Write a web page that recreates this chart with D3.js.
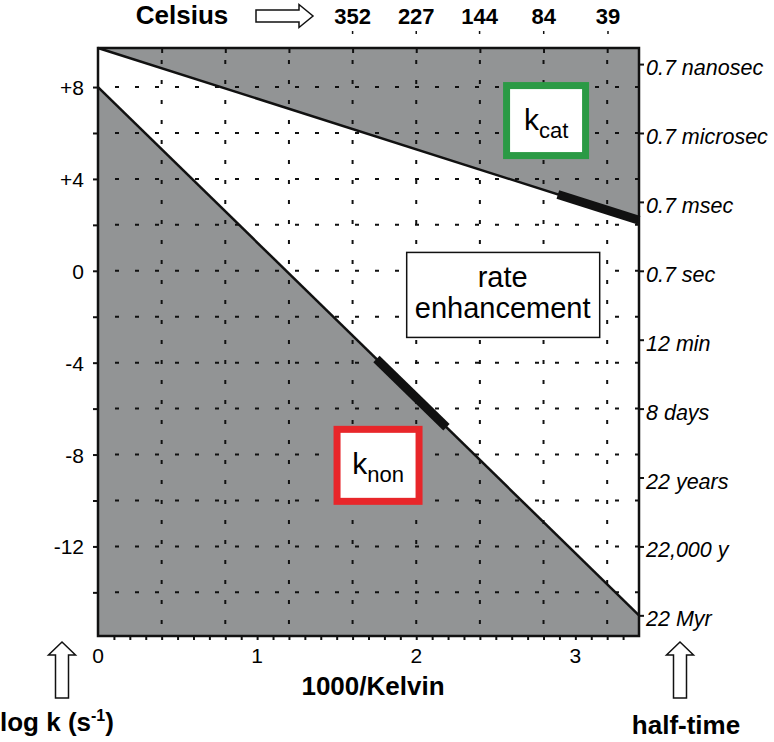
<!DOCTYPE html>
<html>
<head>
<meta charset="utf-8">
<script src="https://cdn.jsdelivr.net/npm/d3@7"></script>
<style>
  body { margin: 0; background: #fff; }
  text { font-family: "Liberation Sans", Arial, sans-serif; fill: #000; }
</style>
</head>
<body>
<svg id="chart" width="774" height="742"></svg>
<script>
// values
var logkTicks = [8, 4, 0, -4, -8, -12];
var logkLabels = ["+8", "+4", "0", "-4", "-8", "-12"];
var gridY = [8, 6, 4, 2, 0, -2, -4, -6, -8, -10, -12, -14];
var invKTicks = [0, 1, 2, 3];
var gridX = [0.4, 0.8, 1.2, 1.6, 2.0, 2.4, 2.8, 3.2];
var celsius = [352, 227, 144, 84, 39];
var halfTimeLogk = [9, 6, 3, 0, -3, -6, -9, -12, -15];
var halfTimeLabels = ["0.7 nanosec", "0.7 microsec", "0.7 msec", "0.7 sec", "12 min",
                      "8 days", "22 years", "22,000 y", "22 Myr"];
var kcatLine = [[0, 9.7], [3.4, 2.2]];
var knonLine = [[0, 8], [3.4, -15]];
var kcatThick = [2.89, 3.4];   // 1000/K range of the thick part
var knonThick = [1.75, 2.19];

const svg = d3.select("#chart");

const x = d3.scaleLinear().domain([0, 3.4]).range([98, 639]);
const y = d3.scaleLinear().domain([-15.9, 9.7]).range([636, 48]);

const x0 = x.range()[0], x1 = x.range()[1],
      yTop = y.range()[1], yBot = y.range()[0];

function lineAt(l, v) {
    // log k on a straight line at 1000/K = v
    var t = (v - l[0][0]) / (l[1][0] - l[0][0]);
    return l[0][1] + t * (l[1][1] - l[0][1]);
}

const line = d3.line().x(d => x(d[0])).y(d => y(d[1]));
const GRAY = "#929495";

// shaded areas
svg.append("path")
    .attr("d", line([[0, 9.7], [3.4, 9.7], kcatLine[1], kcatLine[0]]) + "Z")
    .attr("fill", GRAY);
svg.append("path")
    .attr("d", line([knonLine[0], knonLine[1], [3.4, -15.9], [0, -15.9]]) + "Z")
    .attr("fill", GRAY);

// dotted grid
svg.append("g").selectAll("line").data(gridY).join("line")
    .attr("x1", x0 + 17).attr("x2", x1)
    .attr("y1", d => y(d)).attr("y2", d => y(d))
    .attr("stroke", "#111").attr("stroke-width", 2)
    .attr("stroke-dasharray", "4,16");
svg.append("g").selectAll("line").data(gridX).join("line")
    .attr("x1", d => x(d)).attr("x2", d => x(d))
    .attr("y1", yTop + 12).attr("y2", yBot)
    .attr("stroke", "#111").attr("stroke-width", 2)
    .attr("stroke-dasharray", "4,16");

// rate lines
svg.append("path").attr("d", line(kcatLine))
    .attr("stroke", "#111").attr("stroke-width", 2.5).attr("fill", "none");
svg.append("path").attr("d", line(knonLine))
    .attr("stroke", "#111").attr("stroke-width", 2.5).attr("fill", "none");
svg.append("path").attr("d", line(kcatThick.map(v => [v, lineAt(kcatLine, v)])))
    .attr("stroke", "#111").attr("stroke-width", 9).attr("fill", "none");
svg.append("path").attr("d", line(knonThick.map(v => [v, lineAt(knonLine, v)])))
    .attr("stroke", "#111").attr("stroke-width", 9).attr("fill", "none");

// axes
const gl = svg.append("g").attr("transform", "translate(" + x0 + ",0)")
    .call(d3.axisLeft(y).tickValues(gridY).tickSize(5).tickFormat(""));
const gb = svg.append("g").attr("transform", "translate(0," + yBot + ")")
    .call(d3.axisBottom(x).tickValues(d3.range(1, 34).map(d => d / 10)).tickSize(4).tickFormat(""));
const gt = svg.append("g").attr("transform", "translate(0," + yTop + ")")
    .call(d3.axisBottom(x).tickValues(gridX).tickSize(5).tickFormat(""));
const gr = svg.append("g").attr("transform", "translate(" + x1 + ",0)")
    .call(d3.axisRight(y).tickValues(halfTimeLogk).tickSize(5).tickFormat(""));
[gl, gb, gt, gr].forEach(g => {
    g.select(".domain").remove();
    g.selectAll("line").attr("stroke", "#111").attr("stroke-width", 2);
});

// frame
svg.append("rect")
    .attr("x", x0).attr("y", yTop)
    .attr("width", x1 - x0).attr("height", yBot - yTop)
    .attr("fill", "none").attr("stroke", "#111").attr("stroke-width", 2.5);

// left labels
svg.append("g").selectAll("text").data(logkTicks).join("text")
    .attr("x", 84).attr("y", d => y(d) + 8)
    .attr("text-anchor", "end").attr("font-size", 21)
    .text((d, i) => logkLabels[i]);

// bottom labels
svg.append("g").selectAll("text").data(invKTicks).join("text")
    .attr("x", d => x(d)).attr("y", 663)
    .attr("text-anchor", "middle").attr("font-size", 21)
    .text(d => d);

// right labels
svg.append("g").selectAll("text").data(halfTimeLogk).join("text")
    .attr("x", 646).attr("y", d => y(d) + 11)
    .attr("font-size", 21.5).attr("font-style", "italic")
    .text((d, i) => halfTimeLabels[i]);

// Celsius along the top
svg.append("g").selectAll("text").data(celsius).join("text")
    .attr("x", d => x(1000 / (d + 273))).attr("y", 24)
    .attr("text-anchor", "middle").attr("font-size", 22).attr("font-weight", "bold")
    .text(d => d);
svg.append("g").selectAll("line").data(celsius).join("line")
    .attr("x1", d => x(1000 / (d + 273))).attr("x2", d => x(1000 / (d + 273)))
    .attr("y1", 31).attr("y2", 34)
    .attr("stroke", "#111").attr("stroke-width", 1.5);
svg.append("text").attr("x", 182).attr("y", 24)
    .attr("text-anchor", "middle").attr("font-size", 26).attr("font-weight", "bold")
    .text("Celsius");

// outline arrows
svg.append("path")
    .attr("d", "M256,10 L299,10 L299,4.5 L313,16 L299,27.5 L299,22 L256,22 Z")
    .attr("fill", "#fff").attr("stroke", "#111").attr("stroke-width", 1.5);
function upArrow(cx) {
    svg.append("path")
        .attr("d", "M" + cx + ",642 L" + (cx + 13.5) + ",655 L" + (cx + 6.5) + ",655 L" + (cx + 6.5) + ",698 L" +
              (cx - 6.5) + ",698 L" + (cx - 6.5) + ",655 L" + (cx - 13.5) + ",655 Z")
        .attr("fill", "#fff").attr("stroke", "#111").attr("stroke-width", 1.5);
}
upArrow(62);
upArrow(680);

// axis titles
svg.append("text").attr("x", 373).attr("y", 695)
    .attr("text-anchor", "middle").attr("font-size", 26).attr("font-weight", "bold")
    .text("1000/Kelvin");
const lt = svg.append("text").attr("x", 0).attr("y", 731)
    .attr("font-size", 26).attr("font-weight", "bold");
lt.append("tspan").text("log k (s");
lt.append("tspan").attr("font-size", 16).attr("dy", -10).text("-1");
lt.append("tspan").attr("dy", 10).text(")");
svg.append("text").attr("x", 686).attr("y", 734)
    .attr("text-anchor", "middle").attr("font-size", 26).attr("font-weight", "bold")
    .text("half-time");

// labelled boxes
function kBox(cx, cy, w, h, color, sub) {
    svg.append("rect")
        .attr("x", x(cx) - w / 2).attr("y", y(cy) - h / 2)
        .attr("width", w).attr("height", h)
        .attr("fill", "#fff").attr("stroke", color).attr("stroke-width", 7);
    const t = svg.append("text").attr("x", x(cx)).attr("y", y(cy) + 9)
        .attr("text-anchor", "middle").attr("font-size", 30);
    t.append("tspan").text("k");
    t.append("tspan").attr("font-size", 22).attr("dy", 8).text(sub);
}
kBox(2.816, 6.54, 79, 70, "#2b9a45", "cat");
kBox(1.76, -8.47, 82, 72, "#e8262a", "non");

// rate enhancement box
svg.append("rect")
    .attr("x", x(1.94)).attr("y", y(0.8))
    .attr("width", 193).attr("height", 85)
    .attr("fill", "#fff").attr("stroke", "#111").attr("stroke-width", 1.5);
svg.append("text").attr("x", x(1.94) + 96).attr("y", 287)
    .attr("text-anchor", "middle").attr("font-size", 29).text("rate");
svg.append("text").attr("x", x(1.94) + 96).attr("y", 318)
    .attr("text-anchor", "middle").attr("font-size", 29).text("enhancement");
</script>
</body>
</html>
